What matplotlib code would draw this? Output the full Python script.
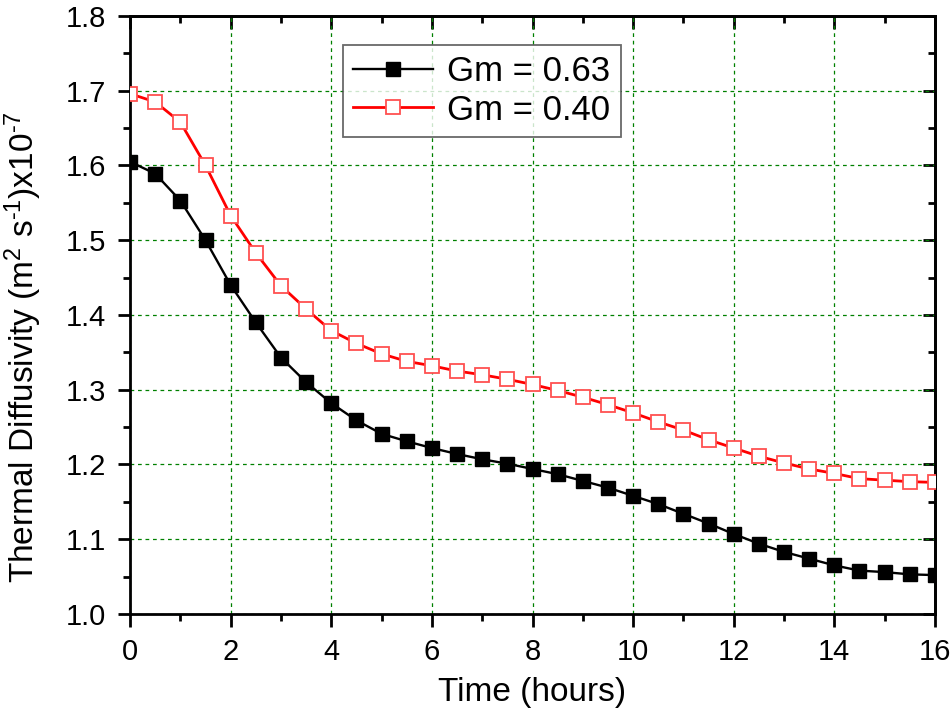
import matplotlib
matplotlib.use("Agg")
import matplotlib.pyplot as plt
from matplotlib.ticker import MultipleLocator, FormatStrFormatter

plt.rcParams['font.family'] = ['Liberation Sans', 'DejaVu Sans']
plt.rcParams['mathtext.fontset'] = 'custom'
plt.rcParams['mathtext.rm'] = 'Liberation Sans'
plt.rcParams['mathtext.it'] = 'Liberation Sans:italic'

time_h = [0, 0.5, 1, 1.5, 2, 2.5, 3, 3.5, 4, 4.5, 5, 5.5, 6, 6.5, 7, 7.5, 8,
          8.5, 9, 9.5, 10, 10.5, 11, 11.5, 12, 12.5, 13, 13.5, 14, 14.5, 15, 15.5, 16]
gm063 = [1.605, 1.589, 1.553, 1.500, 1.440, 1.390, 1.343, 1.310, 1.282, 1.259,
         1.241, 1.231, 1.222, 1.214, 1.207, 1.201, 1.194, 1.187, 1.178, 1.169,
         1.158, 1.147, 1.134, 1.121, 1.107, 1.094, 1.083, 1.074, 1.065, 1.058,
         1.056, 1.053, 1.052]
gm040 = [1.696, 1.685, 1.658, 1.600, 1.533, 1.483, 1.439, 1.408, 1.379, 1.362,
         1.348, 1.338, 1.332, 1.325, 1.320, 1.314, 1.307, 1.299, 1.290, 1.280,
         1.269, 1.257, 1.246, 1.233, 1.222, 1.211, 1.202, 1.194, 1.188, 1.181,
         1.179, 1.177, 1.176]
labels = ["Gm = 0.63", "Gm = 0.40"]

fig = plt.figure(figsize=(9.52, 7.13), dpi=100)
ax = fig.add_axes([0.1366, 0.1389, 0.8455, 0.8387])

ax.plot(time_h, gm063, color='black', lw=1.7, marker='s', ms=10,
        mfc='black', mec='black', label=labels[0], zorder=3)
ax.plot(time_h, gm040, color='#ff0000', lw=2.0, marker='s', ms=10,
        mfc='white', mec='#ff5050', mew=1.3, label=labels[1], zorder=3)

ax.set_xlim(0, 16)
ax.set_ylim(1.0, 1.8)
ax.xaxis.set_major_locator(MultipleLocator(2))
ax.xaxis.set_minor_locator(MultipleLocator(1))
ax.yaxis.set_major_locator(MultipleLocator(0.1))
ax.yaxis.set_minor_locator(MultipleLocator(0.05))
ax.yaxis.set_major_formatter(FormatStrFormatter('%.1f'))

ax.grid(True, which='major', color='#008000', linestyle=(0, (3, 3)), linewidth=0.9)
ax.set_axisbelow(True)

SW = 2.0
for s in ax.spines.values():
    s.set_linewidth(SW)

ax.tick_params(which='major', direction='out', length=9, width=SW, labelsize=21, pad=8)
ax.tick_params(which='minor', direction='out', length=5, width=SW)

# inward ticks on top and right
axt = ax.secondary_xaxis('top')
axt.xaxis.set_major_locator(MultipleLocator(2))
axt.xaxis.set_minor_locator(MultipleLocator(1))
axt.tick_params(which='major', direction='in', length=9, width=SW, labeltop=False)
axt.tick_params(which='minor', direction='in', length=5, width=SW)
axr = ax.secondary_yaxis('right')
axr.yaxis.set_major_locator(MultipleLocator(0.1))
axr.yaxis.set_minor_locator(MultipleLocator(0.05))
axr.tick_params(which='major', direction='in', length=9, width=SW, labelright=False)
axr.tick_params(which='minor', direction='in', length=5, width=SW)
for sa in (axt, axr):
    for s in sa.spines.values():
        s.set_linewidth(SW)

ax.set_xlabel("Time (hours)", fontsize=24, labelpad=8)
ax.set_ylabel(r"Thermal Diffusivity (m$^{2}$ s$^{\text{-}1}$)x10$^{\text{-}7}$", fontsize=24)
ax.yaxis.set_label_coords(-0.107, 0.4465)

leg = ax.legend(loc='upper left', bbox_to_anchor=(0.2646, 0.9515), borderaxespad=0,
                fontsize=25, frameon=True, fancybox=False, handlelength=2.3,
                handletextpad=0.4, borderpad=0.3, labelspacing=0.15)
leg.get_frame().set_edgecolor('#444444')
leg.get_frame().set_linewidth(1.3)

fig.savefig("out.png", dpi=100)
